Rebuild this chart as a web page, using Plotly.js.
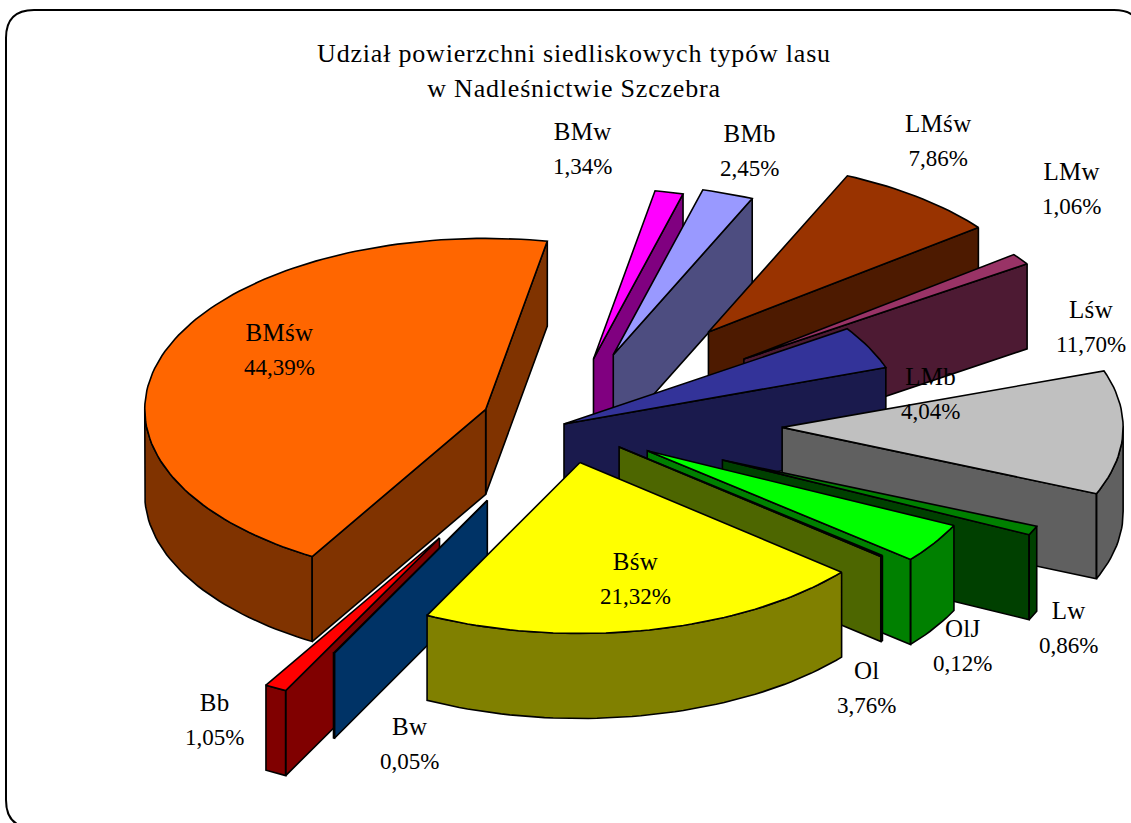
<!DOCTYPE html>
<html>
<head>
<meta charset="utf-8">
<script src="https://cdn.plot.ly/plotly-3.0.1.min.js"></script>
<style>html,body{margin:0;padding:0;background:#fff}#chart{width:1131px;height:823px}</style>
</head>
<body>
<div id="chart"></div>
<script>
// Data, clockwise from the first slice
const categories = ['BMw','BMb','LMśw','LMw','LMb','Lśw','Lw','Ol','OlJ','Bśw','Bw','Bb','BMśw'];
const values     = [1.34, 2.45, 7.86, 1.06, 4.04, 11.70, 0.86, 3.76, 0.12, 21.32, 0.05, 1.05, 44.39];

// Styling of the slices
const topColors  = ['#FF00FF','#9999FF','#993300','#993366','#333399','#C0C0C0','#008000','#00FF00','#99CC00','#FFFF00','#0066CC','#FF0000','#FF6600'];
const wallColors = ['#800080','#4D4D80','#4D1A00','#4D1A33','#1A1A4D','#606060','#004000','#008000','#4D6600','#808000','#003366','#800000','#803300'];
// Explosion of each slice, as a fraction of the radius
const pulls      = [0.39, 0.43, 0.685, 0.65, 0, 0.64, 0.51, 0.29, 0.21, 0.23, 0.50, 0.76, 0.245];
// Painter's order, back to front
const drawOrder  = ['BMśw','BMw','BMb','LMśw','LMw','LMb','Lśw','Lw','Ol','OlJ','Bb','Bw','Bśw'];

// Label centres
const labelX     = [582, 749, 938, 1071, 930, 1091, 1068, 866, 962, 635, 409, 214, 279];
const labelY     = [148, 150, 140, 188, 393, 326, 627, 687, 645, 578, 743, 719, 349];

// Projection of the pie onto the page
const centre = {x: 564, y: 424}, rx = 341, ry = 171, depth = 85, startAngle = 280.4;
const rad = d => d * Math.PI / 180;
const px = (c, a, p) => ({x: c.x + rx * Math.cos(rad(a)) * p, y: c.y + ry * Math.sin(rad(a)) * p});

const total = values.reduce((s, v) => s + v, 0);
let cursor = startAngle;
const slices = {};
categories.forEach((name, i) => {
  const sweep = values[i] / total * 360;
  const a0 = cursor, a1 = cursor + sweep, mid = cursor + sweep / 2;
  cursor = a1;
  const apex = px(centre, mid, pulls[i]);
  const arc = [];
  const steps = Math.max(2, Math.ceil(sweep / 1.5));
  for (let k = 0; k <= steps; k++) {
    arc.push(px(apex, a0 + sweep * k / steps, 1));
  }
  const top = [apex, ...arc, apex];
  // Front-facing walls: edges running leftward when going clockwise on screen
  const wx = [], wy = [];
  let run = [];
  const flush = () => {
    if (run.length > 1) {
      const lower = run.slice().reverse().map(p => ({x: p.x, y: p.y + depth}));
      [...run, ...lower, run[0]].forEach(p => { wx.push(p.x); wy.push(p.y); });
      wx.push(null); wy.push(null);
    }
    run = [];
  };
  for (let k = 0; k < arc.length - 1; k++) {
    if (arc[k + 1].x < arc[k].x) {
      if (!run.length) run.push(arc[k]);
      run.push(arc[k + 1]);
    } else flush();
  }
  flush();
  if (arc[arc.length - 1].x > apex.x) { run = [arc[arc.length - 1], apex]; flush(); }
  if (apex.x > arc[0].x) { run = [apex, arc[0]]; flush(); }
  slices[name] = {i, top, wx, wy};
});

const traces = [];
const edge = {color: '#000', width: 1.6};
drawOrder.forEach(name => {
  const s = slices[name];
  traces.push({type: 'scatter', mode: 'lines', x: s.wx, y: s.wy, fill: 'toself',
    fillcolor: wallColors[s.i], line: edge, hoverinfo: 'skip', showlegend: false});
  traces.push({type: 'scatter', mode: 'lines', x: s.top.map(p => p.x), y: s.top.map(p => p.y), fill: 'toself',
    fillcolor: topColors[s.i], line: edge, name: name, hoveron: 'fills',
    text: name + ': ' + values[s.i].toFixed(2).replace('.', ',') + '%', hoverinfo: 'text', showlegend: false});
});

const serif = 'Liberation Serif, Times New Roman, serif';
const span = (t, size, gap) => '<span style="font-size:' + size + 'px;letter-spacing:' + gap + 'px">' + t + '</span>';
const annotations = categories.map((name, i) => ({
  xref: 'x', yref: 'y', x: labelX[i], y: labelY[i], xanchor: 'center', yanchor: 'middle',
  showarrow: false, align: 'center', font: {family: serif, size: 26, color: '#000'},
  text: span(name, 25, 0.3) + '<br>' + span(values[i].toFixed(2).replace('.', ',') + '%', 23, 0)
}));

const layout = {
  width: 1131, height: 823,
  margin: {l: 0, r: 0, t: 0, b: 0},
  paper_bgcolor: '#fff', plot_bgcolor: 'rgba(0,0,0,0)',
  title: {
    text: span('Udział powierzchni siedliskowych typów lasu', 26, 0.8) + '<br>' + span('w Nadleśnictwie Szczebra', 26, 0.8),
    font: {family: serif, size: 27, color: '#000'},
    x: 574 / 1131, xanchor: 'center', y: 1 - 62 / 823, yanchor: 'middle'
  },
  xaxis: {range: [0, 1131], visible: false, fixedrange: true},
  yaxis: {range: [823, 0], visible: false, fixedrange: true},
  hovermode: 'closest',
  annotations,
  shapes: [{
    type: 'path', xref: 'x', yref: 'y', layer: 'below',
    path: 'M 34 10 L 1114 10 Q 1142 10 1142 38 L 1142 800 Q 1142 828 1114 828 L 34 828 Q 6 828 6 800 L 6 38 Q 6 10 34 10 Z',
    line: {color: '#000', width: 2}
  }]
};

Plotly.newPlot('chart', traces, layout, {displayModeBar: false});
</script>
</body>
</html>
